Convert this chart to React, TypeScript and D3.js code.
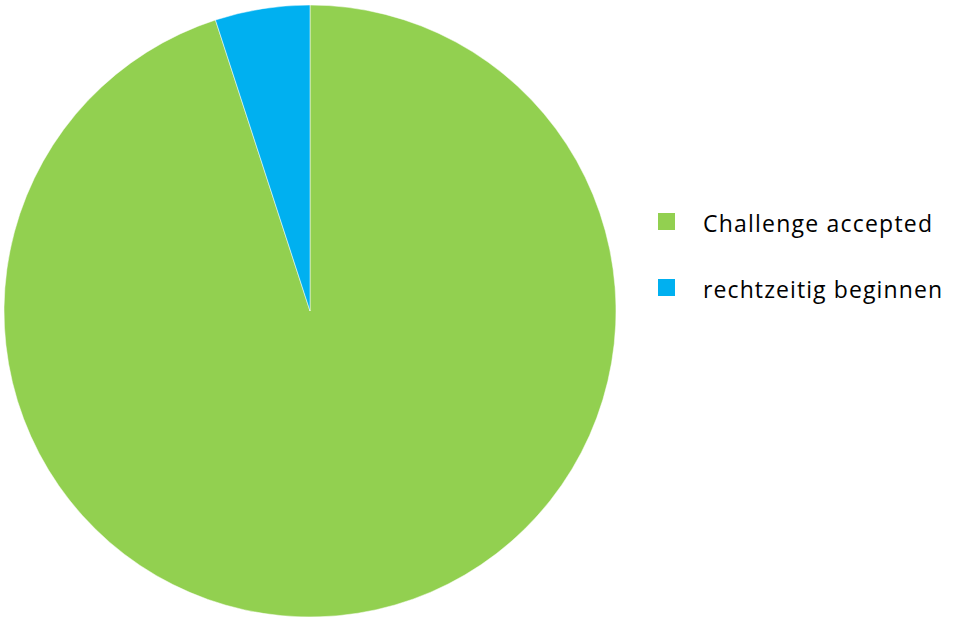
import React from "react";
import * as d3 from "d3";

const categories = ["Challenge accepted", "rechtzeitig beginnen"];
const values = [95, 5];
const colors = ["#92D050", "#00B0F0"];
const labelWidths = [229, 239];

export default function App() {
  const W = 957, H = 619;
  const cx = 310, cy = 311, r = 306;
  const pie = d3.pie<number>().sort(null).startAngle(0).endAngle(2 * Math.PI);
  const arcs = pie(values);
  const arc = d3.arc<d3.PieArcDatum<number>>().innerRadius(0).outerRadius(r);
  return (
    <svg width={W} height={H} style={{ position: "absolute", left: 0, top: 0 }}>
      <rect width={W} height={H} fill="#fff" />
      <g transform={`translate(${cx},${cy})`}>
        {arcs.map((a, i) => (
          <path key={i} d={arc(a) || ""} fill={colors[i]} stroke="#fff" strokeWidth={0.5} />
        ))}
      </g>
      {categories.map((c, i) => (
        <g key={c} transform={`translate(658,${213 + i * 66})`}>
          <rect width={17} height={17} fill={colors[i]} />
          <text x={45} y={19} fontFamily="'Open Sans', sans-serif" fontSize={23}
            textLength={labelWidths[i]} lengthAdjust="spacing" fill="#000">{c}</text>
        </g>
      ))}
    </svg>
  );
}
